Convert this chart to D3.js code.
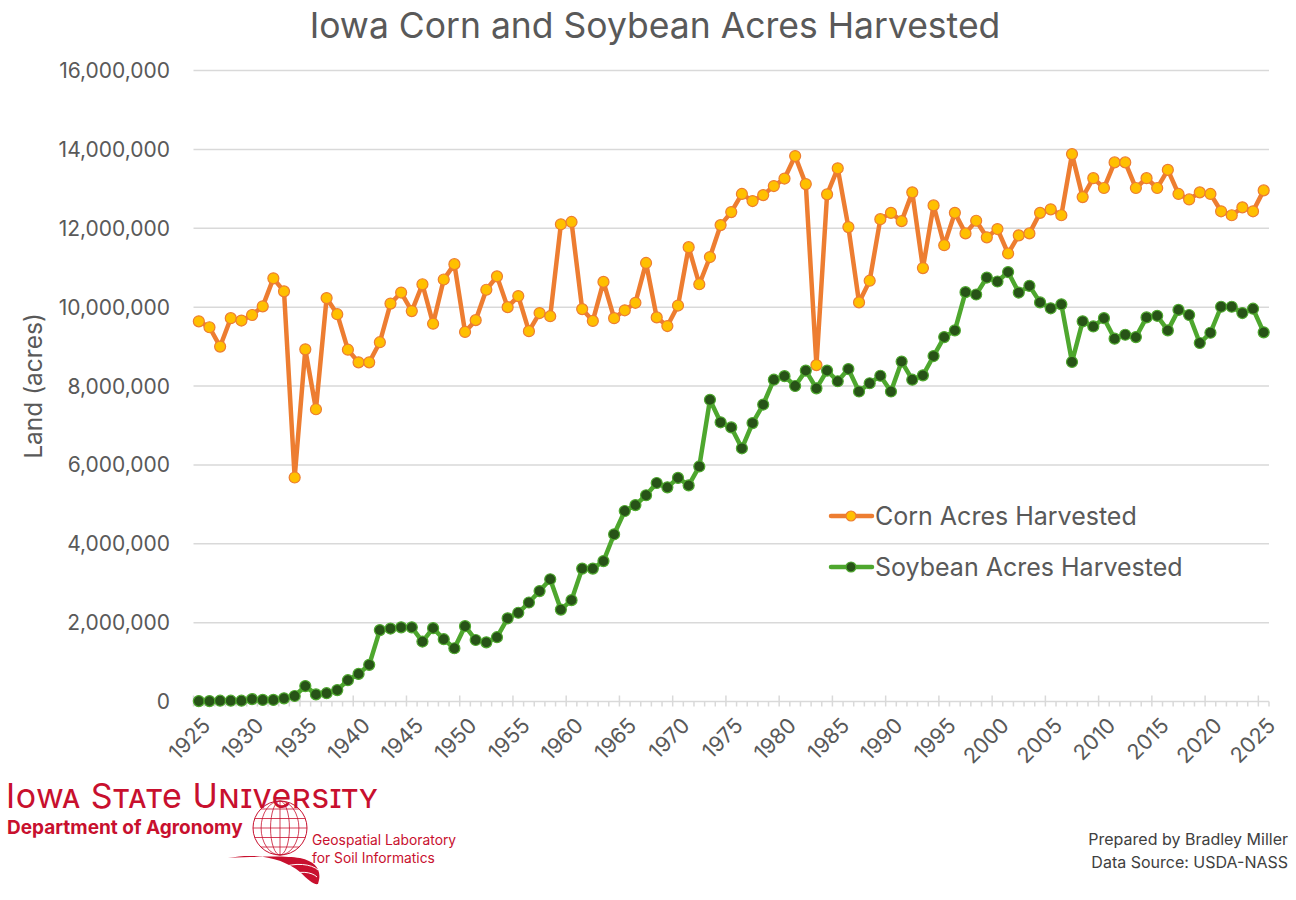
<html>
  <head>
    <script src="https://d3js.org/d3.v7.min.js"></script>
    <style>
      body { margin: 0; background: #fff; }
      text { font-family: Inter, "Open Sans", sans-serif; }
    </style>
  </head>

  <body>
    <div id="vis"></div>
  </body>
  <script>
    // Values, 1925 - 2025, millions of acres
    var years = d3.range(1925, 2026)

    var cornMillions = [
      9.64, 9.49, 9.00, 9.72, 9.66, 9.80, 10.02, 10.73, 10.40, 5.68,
      8.93, 7.41, 10.23, 9.82, 8.92, 8.60, 8.60, 9.11, 10.09, 10.37,
      9.90, 10.58, 9.58, 10.70, 11.09, 9.37, 9.67, 10.44, 10.78, 10.00,
      10.28, 9.39, 9.85, 9.77, 12.10, 12.16, 9.95, 9.65, 10.64, 9.72,
      9.92, 10.11, 11.12, 9.74, 9.52, 10.04, 11.52, 10.58, 11.27, 12.08,
      12.41, 12.87, 12.69, 12.84, 13.07, 13.26, 13.83, 13.12, 8.53, 12.86,
      13.52, 12.03, 10.12, 10.67, 12.23, 12.39, 12.18, 12.91, 10.99, 12.58,
      11.57, 12.39, 11.87, 12.19, 11.77, 11.98, 11.36, 11.82, 11.87, 12.39,
      12.48, 12.33, 13.88, 12.79, 13.27, 13.02, 13.67, 13.67, 13.02, 13.27,
      13.02, 13.48, 12.87, 12.73, 12.91, 12.87, 12.43, 12.33, 12.53, 12.43,
      12.96
    ]

    var soyMillions = [
      0.01, 0.01, 0.02, 0.02, 0.02, 0.06, 0.04, 0.04, 0.08, 0.14,
      0.39, 0.18, 0.21, 0.29, 0.54, 0.70, 0.93, 1.81, 1.85, 1.88,
      1.88, 1.52, 1.86, 1.58, 1.35, 1.91, 1.56, 1.50, 1.63, 2.11,
      2.25, 2.51, 2.80, 3.10, 2.33, 2.57, 3.37, 3.37, 3.56, 4.24,
      4.83, 4.98, 5.23, 5.54, 5.43, 5.67, 5.48, 5.96, 7.65, 7.08,
      6.95, 6.42, 7.06, 7.53, 8.16, 8.25, 8.00, 8.39, 7.94, 8.39,
      8.12, 8.43, 7.86, 8.07, 8.26, 7.86, 8.62, 8.16, 8.27, 8.76,
      9.24, 9.41, 10.38, 10.32, 10.75, 10.65, 10.89, 10.37, 10.54, 10.12,
      9.97, 10.07, 8.61, 9.64, 9.51, 9.72, 9.20, 9.30, 9.24, 9.74,
      9.78, 9.41, 9.93, 9.80, 9.09, 9.35, 10.01, 10.01, 9.85, 9.96,
      9.36
    ]

    var yTicks = [0, 2e6, 4e6, 6e6, 8e6, 10e6, 12e6, 14e6, 16e6]
    var seriesNames = ["Corn Acres Harvested", "Soybean Acres Harvested"]

    var width = 1296
    var height = 900
    var textColor = "#595959"

    var svg = d3.select("#vis")
      .append("svg")
      .attr("width", width)
      .attr("height", height)

    // Scales (category axis, points sit in the middle of each band)
    var x = d3.scaleBand()
      .domain(years)
      .range([193.5, 1269])
      .paddingInner(0)
    var cx = function(yr) { return x(yr) + x.bandwidth() / 2 }

    var y = d3.scaleLinear()
      .domain([0, 16e6])
      .range([701.5, 70.5])

    // Title
    svg.append("text")
      .text("Iowa Corn and Soybean Acres Harvested")
      .attr("x", 655)
      .attr("y", 38)
      .attr("text-anchor", "middle")
      .attr("font-size", 35.5)
      .attr("fill", textColor)

    // Gridlines + y labels
    svg.append("g")
      .selectAll("line")
      .data(yTicks.slice(1))
      .join("line")
      .attr("x1", 193.5)
      .attr("x2", 1269)
      .attr("y1", d => y(d))
      .attr("y2", d => y(d))
      .attr("stroke", "#d9d9d9")
      .attr("stroke-width", 1.5)

    svg.append("g")
      .selectAll("text")
      .data(yTicks)
      .join("text")
      .text(d => d3.format(",")(d))
      .attr("x", 170)
      .attr("y", d => y(d) + 7.5)
      .attr("text-anchor", "end")
      .attr("font-size", 21)
      .attr("fill", textColor)

    svg.append("text")
      .text("Land (acres)")
      .attr("transform", "translate(42,386) rotate(-90)")
      .attr("text-anchor", "middle")
      .attr("font-size", 24.5)
      .attr("fill", textColor)

    // X axis line and ticks
    var xAxis = svg.append("g")
    xAxis.append("line")
      .attr("x1", 193.5)
      .attr("x2", 1269)
      .attr("y1", y(0))
      .attr("y2", y(0))
      .attr("stroke", "#d9d9d9")
      .attr("stroke-width", 1.5)

    var tickPos = years.map(d => x(d)).concat([x.range()[1]])
    xAxis.selectAll(".tick")
      .data(tickPos)
      .join("line")
      .attr("class", "tick")
      .attr("x1", d => d)
      .attr("x2", d => d)
      .attr("y1", (d, i) => i % 5 == 0 ? y(0) - 6 : y(0))
      .attr("y2", y(0) + 5)
      .attr("stroke", "#d9d9d9")
      .attr("stroke-width", 1.5)

    xAxis.selectAll(".lbl")
      .data(years.filter(d => (d - 1925) % 5 == 0))
      .join("text")
      .attr("class", "lbl")
      .text(d => d)
      .attr("text-anchor", "end")
      .attr("transform", d => "translate(" + (cx(d) + 13) + "," + 727 + ") rotate(-45)")
      .attr("font-size", 21.5)
      .attr("fill", textColor)

    // Lines and markers
    var series = [
      {name: seriesNames[0], values: cornMillions, line: "#ED7D31", fill: "#FFC000", edge: "#ED7D31"},
      {name: seriesNames[1], values: soyMillions, line: "#4EA72E", fill: "#275317", edge: "#4EA72E"}
    ]

    var line = d3.line()
      .x((d, i) => cx(years[i]))
      .y(d => y(d * 1e6))

    series.forEach(s => {
      var g = svg.append("g")
      g.append("path")
        .datum(s.values)
        .attr("fill", "none")
        .attr("stroke", s.line)
        .attr("stroke-width", 4.5)
        .attr("stroke-linejoin", "round")
        .attr("d", line)
      g.selectAll("circle")
        .data(s.values)
        .join("circle")
        .attr("cx", (d, i) => cx(years[i]))
        .attr("cy", d => y(d * 1e6))
        .attr("r", 5.5)
        .attr("fill", s.fill)
        .attr("stroke", s.edge)
        .attr("stroke-width", 1.2)
    })

    // Legend
    series.forEach((s, i) => {
      var ly = 516 + i * 51
      var g = svg.append("g")
      g.append("line")
        .attr("x1", 831).attr("x2", 872)
        .attr("y1", ly).attr("y2", ly)
        .attr("stroke", s.line)
        .attr("stroke-width", 4.5)
        .attr("stroke-linecap", "round")
      g.append("circle")
        .attr("cx", 851).attr("cy", ly)
        .attr("r", 5)
        .attr("fill", s.fill)
        .attr("stroke", s.edge)
        .attr("stroke-width", 1.2)
      g.append("text")
        .text(s.name)
        .attr("x", 875)
        .attr("y", ly + 9)
        .attr("font-size", 25)
        .attr("fill", textColor)
    })

    // Footer, left: university logo
    var red = "#C8102E"
    var logo = svg.append("g")
    logo.append("text")
      .text("Iowa State University")
      .attr("x", 6)
      .attr("y", 808)
      .attr("font-family", '"Liberation Serif", serif')
      .attr("font-variant", "small-caps")
      .attr("font-size", 34)
      .attr("textLength", 372)
      .attr("fill", red)
    logo.append("text")
      .text("Department of Agronomy")
      .attr("x", 7)
      .attr("y", 834)
      .attr("font-family", '"Liberation Sans", Arial, sans-serif')
      .attr("font-weight", "bold")
      .attr("font-size", 19)
      .attr("fill", red)

    // globe
    var globe = logo.append("g").attr("transform", "translate(280,828)")
    globe.append("circle")
      .attr("r", 27).attr("fill", "none").attr("stroke", red).attr("stroke-width", 1)
    ;[-19, -9.5, 0, 9.5, 19].forEach(v => {
      globe.append("line")
        .attr("x1", -Math.sqrt(729 - v * v)).attr("x2", Math.sqrt(729 - v * v))
        .attr("y1", v).attr("y2", v)
        .attr("stroke", red).attr("stroke-width", 0.8)
    })
    ;[0.35, 0.7].forEach(k => {
      globe.append("ellipse")
        .attr("rx", 27 * k).attr("ry", 27)
        .attr("fill", "none").attr("stroke", red).attr("stroke-width", 0.8)
    })
    globe.append("line")
      .attr("x1", 0).attr("x2", 0).attr("y1", -27).attr("y2", 27)
      .attr("stroke", red).attr("stroke-width", 0.8)
    // field swoosh
    logo.append("path")
      .attr("d", "M228,858 C260,852 285,860 300,872 C308,880 314,885 318,884 C322,872 318,862 300,858 C285,856 270,856 228,858 Z")
      .attr("fill", red)
    logo.append("path")
      .attr("d", "M280,868 C295,862 312,864 318,870 M286,876 C300,870 312,872 317,877")
      .attr("fill", "none").attr("stroke", "#fff").attr("stroke-width", 1)

    logo.append("text")
      .text("Geospatial Laboratory")
      .attr("x", 312)
      .attr("y", 845)
      .attr("font-family", '"Liberation Sans", Arial, sans-serif')
      .attr("font-size", 13.8)
      .attr("fill", red)
    logo.append("text")
      .text("for Soil Informatics")
      .attr("x", 312)
      .attr("y", 863)
      .attr("font-family", '"Liberation Sans", Arial, sans-serif')
      .attr("font-size", 13.8)
      .attr("fill", red)

    // Footer, right: credits
    svg.append("text")
      .text("Prepared by Bradley Miller")
      .attr("x", 1288)
      .attr("y", 845)
      .attr("text-anchor", "end")
      .attr("font-size", 16)
      .attr("fill", "#404040")
    svg.append("text")
      .text("Data Source: USDA-NASS")
      .attr("x", 1288)
      .attr("y", 868)
      .attr("text-anchor", "end")
      .attr("font-size", 16)
      .attr("fill", "#404040")
  </script>
</html>
